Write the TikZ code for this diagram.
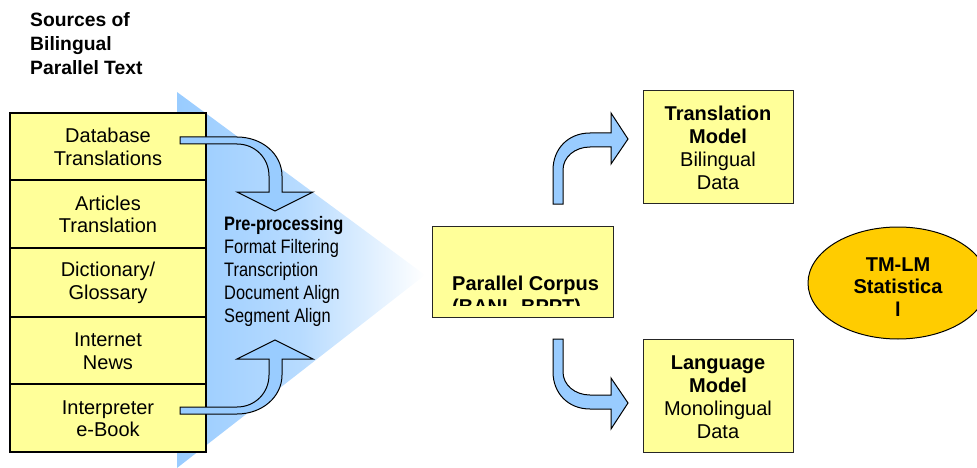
\documentclass[tikz,border=0pt]{standalone}
\usepackage{fontspec}
\setmainfont{Liberation Sans}
\newfontfamily\narrowfont[FakeStretch=0.84]{Liberation Sans}
\usetikzlibrary{shapes.geometric}
\definecolor{boxyellow}{HTML}{FFFF99}
\definecolor{arrowblue}{HTML}{99CCFF}
\definecolor{triblue}{HTML}{99CCFF}
\definecolor{gold}{HTML}{FFCC00}
\tikzset{
  srcbox/.style={draw=black, line width=1.3pt, fill=boxyellow},
  outbox/.style={draw=black!85, line width=1pt, fill=boxyellow},
  boxtext/.style={align=center, font=\fontsize{20}{22.5}\selectfont, inner sep=0pt},
  bentarrow/.style={draw=black, line width=1pt, fill=arrowblue, line join=miter},
}
\begin{document}
\begin{tikzpicture}[x=1pt,y=-1pt]
\useasboundingbox (0,0) rectangle (977,468);
% title
\node[anchor=west, align=left, font=\bfseries\fontsize{19.3}{24}\selectfont, inner sep=0pt] (title) at (30,44) {Sources of\\Bilingual\\Parallel Text};
% gradient triangle
\shade[left color=triblue, right color=white, middle color=triblue!70] (177,92) -- (425,275) -- (177,468) -- cycle;
% source stack
\draw[srcbox] (10,113) rectangle (206,180);
\draw[srcbox] (10,180) rectangle (206,248);
\draw[srcbox] (10,248) rectangle (206,317);
\draw[srcbox] (10,317) rectangle (206,384);
\draw[srcbox] (10,384) rectangle (206,452);
\node[boxtext] (s1) at (108,147) {Database\\Translations};
\node[boxtext] (s2) at (108,214.5) {Articles\\Translation};
\node[boxtext] (s3) at (108,283) {Dictionary/\\Glossary};
\node[boxtext] (s4) at (108,351) {Internet\\News};
\node[boxtext] (s5) at (108,418.5) {Interpreter\\e-Book};
% bent arrows left
\draw[bentarrow] (180,137) -- (237,137) .. controls (262,137) and (282,154) .. (282,176) -- (282,192) -- (313,192) -- (275,211) -- (237,192) -- (269,192) -- (269,176) .. controls (269,158) and (255,144) .. (237,144) -- (180,144) -- cycle;
\draw[bentarrow] (180,414) -- (237,414) .. controls (262,414) and (282,397) .. (282,375) -- (282,359) -- (313,359) -- (275,340) -- (237,359) -- (269,359) -- (269,375) .. controls (269,393) and (255,407) .. (237,407) -- (180,407) -- cycle;
% preprocessing text
\node[anchor=west, align=left, inner sep=0pt, font=\narrowfont\fontsize{19.5}{22.8}\selectfont] (pre) at (224,271.5) {\textbf{Pre-processing}\\Format Filtering\\Transcription\\Document Align\\Segment Align};
% parallel corpus
\draw[outbox] (432,226) rectangle (613,317);
\begin{scope}
\clip (432,226) rectangle (613,305);
\node[anchor=base west, inner sep=0pt, font=\bfseries\fontsize{20}{22}\selectfont] (pc1) at (452,290) {Parallel Corpus};
\node[anchor=base west, inner sep=0pt, font=\bfseries\fontsize{20}{22}\selectfont] (pc2) at (452,313) {(BANL-BPPT)};
\end{scope}
% right bent arrows
\draw[bentarrow] (553,204) -- (553,170) .. controls (553,149) and (568,133) .. (590,133) -- (611,133) -- (611,113) -- (628,139) -- (611,164) -- (611,147) -- (590,147) .. controls (575,147) and (563,157) .. (563,170) -- (563,204) -- cycle;
\draw[bentarrow] (553,339) -- (553,372) .. controls (553,393) and (568,409) .. (590,409) -- (611,409) -- (611,429) -- (628,403) -- (611,378) -- (611,395) -- (590,395) .. controls (575,395) and (563,385) .. (563,372) -- (563,339) -- cycle;
% output boxes
\draw[outbox] (643,91) rectangle (793,203);
\node[boxtext, font=\fontsize{20}{23}\selectfont] (tm) at (718,148) {\textbf{Translation}\\\textbf{Model}\\Bilingual\\Data};
\draw[outbox] (643,339) rectangle (793,452);
\node[boxtext, font=\fontsize{20}{23}\selectfont] (lm) at (718,397) {\textbf{Language}\\\textbf{Model}\\Monolingual\\Data};
% ellipse
\begin{scope}
\clip (0,0) rectangle (977,468);
\node[ellipse, draw=black, line width=1pt, fill=gold, minimum width=180pt, minimum height=112pt, inner sep=0pt] (stat) at (898,283) {};
\end{scope}
\node[boxtext, font=\bfseries\fontsize{20}{22.5}\selectfont] (statt) at (898,287) {TM-LM\\Statistica\\l};
\end{tikzpicture}
\end{document}
